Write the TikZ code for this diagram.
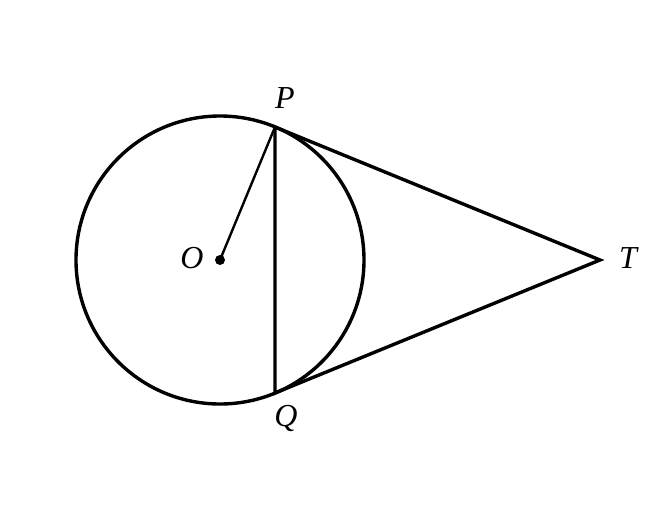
\documentclass[tikz,border=0pt]{standalone}
\usepackage{fontspec}
\setmainfont{Liberation Serif}
\begin{document}
\begin{tikzpicture}[x=1pt,y=-1pt,
  lbl/.style={font=\fontsize{32}{36}\selectfont\itshape, inner sep=0pt},
  thick line/.style={line width=3.4pt},
  thin line/.style={line width=2.4pt}]
\useasboundingbox (0,0) rectangle (670,520);
\coordinate (O) at (220,260);
\coordinate (P) at (275,127);
\coordinate (Q) at (275,393);
\coordinate (T) at (600,260);
\draw[thick line] (O) circle[radius=144];
\draw[thin line] (O) -- (P);
\draw[thick line, line join=miter] (Q) -- (P) -- (T) -- cycle;
\fill (O) circle[radius=5];
\node[lbl] (lP) at (285,98) {P};
\node[lbl] (lO) at (192,258) {O};
\node[lbl] (lQ) at (286,418) {Q};
\node[lbl] (lT) at (628,258) {T};
\end{tikzpicture}
\end{document}
